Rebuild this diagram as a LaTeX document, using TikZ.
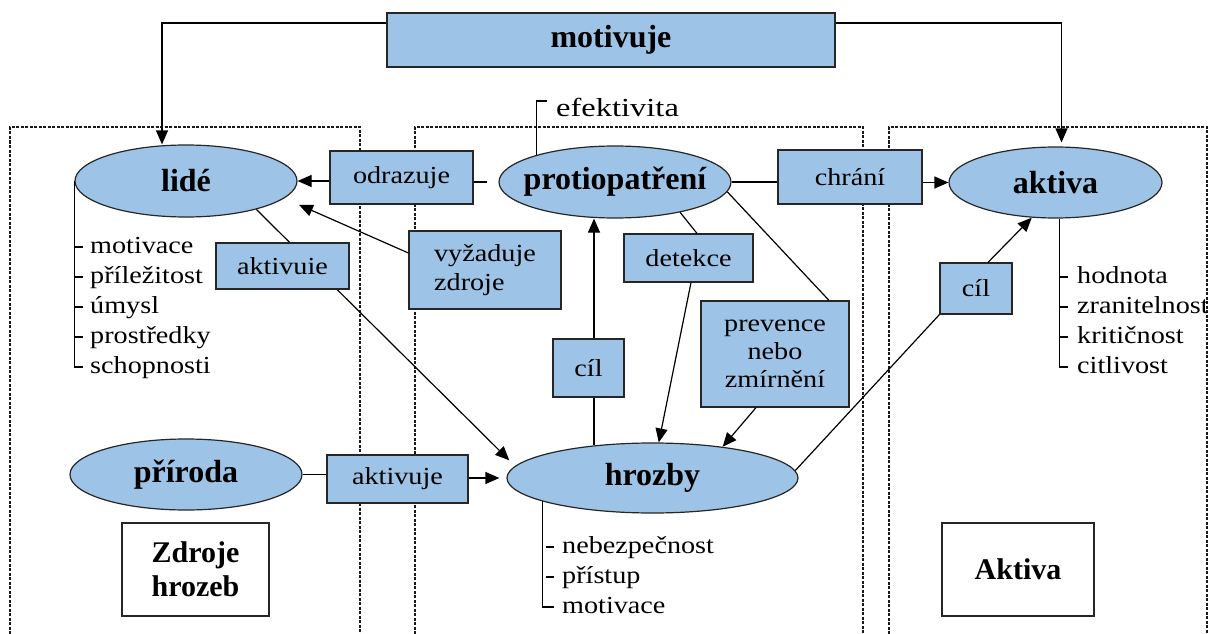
\documentclass[tikz,border=0pt]{standalone}
\usepackage{fontspec}
\usepackage{graphicx}
\setmainfont{Liberation Serif}
\usetikzlibrary{shapes.geometric,arrows.meta}
\definecolor{boxblue}{RGB}{157,195,230}
% regular labels are set slightly widened
\newcommand{\hs}[1]{\scalebox{1.15}[1]{#1}}
\newcommand{\twolines}[3][c]{\hs{\begin{tabular}{@{}#1@{}}#2\\#3\end{tabular}}}
\tikzset{
  conn/.style={line width=1.2pt, draw=black},
  arr/.style={conn, -{Triangle[length=14pt,width=12pt]}},
  oval/.style={ellipse, draw=black!85, line width=1.2pt, fill=boxblue, inner sep=0pt,
    font=\bfseries\fontsize{32}{36}\selectfont},
  lbl/.style={rectangle, draw=black!85, line width=1.2pt, fill=boxblue, inner sep=0pt,
    font=\fontsize{24.5}{28}\selectfont, align=center},
  legendbox/.style={rectangle, draw=black!85, line width=1.2pt, fill=white, inner sep=0pt,
    font=\bfseries\fontsize{30}{34}\selectfont},
  frame/.style={dash pattern=on 3pt off 1.5pt, line width=1.1pt, draw=black!90},
  item/.style={inner sep=0pt, anchor=base west, font=\fontsize{24.5}{30}\selectfont},
}
\begin{document}
\begin{tikzpicture}[x=1pt,y=-1pt]
\useasboundingbox (0,0) rectangle (1208,634);

% dashed frames of the three areas
\draw[frame] (10,634) -- (10,127) -- (360,127) -- (360,634);
\draw[frame] (415,634) -- (415,127) -- (863,127) -- (863,634);
\draw[frame] (889,634) -- (889,127) -- (1207,127) -- (1207,634);

% main concepts
\node[oval, minimum width=222pt, minimum height=72pt] (lide) at (186,181) {\makebox[0pt]{lidé}};
\node[oval, minimum width=232pt, minimum height=72pt] (prot) at (615,182) {\makebox[0pt]{protiopatření}};
\node[oval, minimum width=213pt, minimum height=71pt] (aktiva) at (1055.5,182.5) {\makebox[0pt]{aktiva}};
\node[oval, minimum width=232pt, minimum height=71pt] (prir) at (186,474.5) {\makebox[0pt]{příroda}};
\node[oval, minimum width=291pt, minimum height=70pt] (hrozby) at (652.5,478) {\makebox[0pt]{hrozby}};

% relation labels
\node[lbl, minimum width=448pt, minimum height=54pt, font=\bfseries\fontsize{32}{36}\selectfont] (mot) at (611,40) {motivuje};
\node[lbl, minimum width=143pt, minimum height=53pt] (odr) at (401.5,177.5) {\hs{odrazuje}};
\node[lbl, minimum width=144pt, minimum height=54pt] (chr) at (850,177) {\hs{chrání}};
\node[lbl, minimum width=152pt, minimum height=78pt, font=\fontsize{24.5}{29}\selectfont] (vyz) at (485,270) {\twolines[l]{vyžaduje}{zdroje}};
\node[lbl, minimum width=129pt, minimum height=48pt] (det) at (688.5,258) {\hs{detekce}};
\node[lbl, minimum width=148pt, minimum height=106pt] (prev) at (775,354) {\hs{\begin{tabular}{@{}c@{}}prevence\\nebo\\zmírnění\end{tabular}}};
\node[lbl, minimum width=71pt, minimum height=58pt] (cil1) at (588.5,368) {\hs{cíl}};
\node[lbl, minimum width=72pt, minimum height=51pt] (cil2) at (976,288.5) {\hs{cíl}};
\node[lbl, minimum width=141pt, minimum height=48pt] (akt2) at (397.5,479) {\hs{aktivuje}};

% area captions
\node[legendbox, minimum width=147pt, minimum height=93pt, align=left] (zdroje) at (195.5,569.5) {Zdroje\\hrozeb};
\node[legendbox, minimum width=152pt, minimum height=93pt] (aktbox) at (1018,569.5) {Aktiva};

% connectors
\draw[arr] ([yshift=17pt]mot.west) -| ([xshift=-24pt]lide.north);
\draw[arr, shorten >=4pt] ([yshift=17pt]mot.east) -| ([xshift=6pt]aktiva.north);
\draw[conn, shorten <=11pt] (prot.west) -- (prot.west -| odr.east);
\draw[arr] (odr.west |- lide.east) -- (lide.east);
\draw[conn] (prot.east) -- (prot.east -| chr.west);
\draw[arr] (chr.east |- aktiva.west) -- (aktiva.west);
\draw[arr, shorten >=16pt] ([yshift=17pt]vyz.west) -- (lide.-10.6);
\draw[conn] (prot.-25) -- ([xshift=8.5pt]det.north);
\draw[arr] ([xshift=2.5pt]det.south) -- (hrozby.80);
\draw[conn] (prot.-5.6) -- ([xshift=54pt]prev.north);
\draw[arr] ([xshift=-19pt]prev.south) -- (hrozby.24.5);
\draw[conn] ([xshift=5.5pt]cil1.south) -- ([xshift=5.5pt]cil1.south |- hrozby.151);
\draw[arr] ([xshift=5.5pt]cil1.north) -- ([xshift=5.5pt]cil1.north |- prot.south);
\draw[conn] (hrozby.3.2) -- (cil2.south west);
\draw[arr] ([xshift=12pt]cil2.north) -- (aktiva.-124.4);
\draw[conn] (prir.east) -- (prir.east -| akt2.west);
\draw[arr, shorten >=7pt] (akt2.east |- hrozby.west) -- (hrozby.west);
\draw[arr, shorten >=8pt] (lide.-22) -- (hrozby.175.5);
\node[lbl, minimum width=133pt, minimum height=46pt] (akt1) at (282.5,266) {\hs{aktivuie}};

% attribute lists
\node[item, font=\fontsize{26}{30}\selectfont] (efek) at (556,116) {\scalebox{1.25}[1]{efektivita}};
\draw[conn] (prot.161.5) |- ([xshift=-9pt,yshift=15pt]efek.base west);

\foreach \t [count=\i] in {motivace, příležitost, úmysl, prostředky, schopnosti}
  \node[item] (lid\i) at (90,223+30*\i) {\hs{\t}};
\draw[conn] (lide.west) |- ([xshift=-7pt,yshift=6pt]lid5.base west);
\foreach \i in {1,...,4}
  \draw[conn] ([xshift=-15pt,yshift=6pt]lid\i.base west) -- ++(8,0);

\foreach \t [count=\i] in {hodnota, zranitelnost, kritičnost, citlivost}
  \node[item] (atr\i) at (1077,253+30*\i) {\hs{\t}};
\draw[conn] ([xshift=4pt]aktiva.south) |- ([xshift=-9pt,yshift=6pt]atr4.base west);
\foreach \i in {1,...,3}
  \draw[conn] ([xshift=-18pt,yshift=6pt]atr\i.base west) -- ++(9,0);

\foreach \t [count=\i] in {nebezpečnost, přístup, motivace}
  \node[item] (hr\i) at (562,523+30*\i) {\hs{\t}};
\draw[conn] (hrozby.192.8) |- ([xshift=-8pt,yshift=6pt]hr3.base west);
\foreach \i in {1,2}
  \draw[conn] ([xshift=-16pt,yshift=6pt]hr\i.base west) -- ++(8,0);
\end{tikzpicture}
\end{document}
